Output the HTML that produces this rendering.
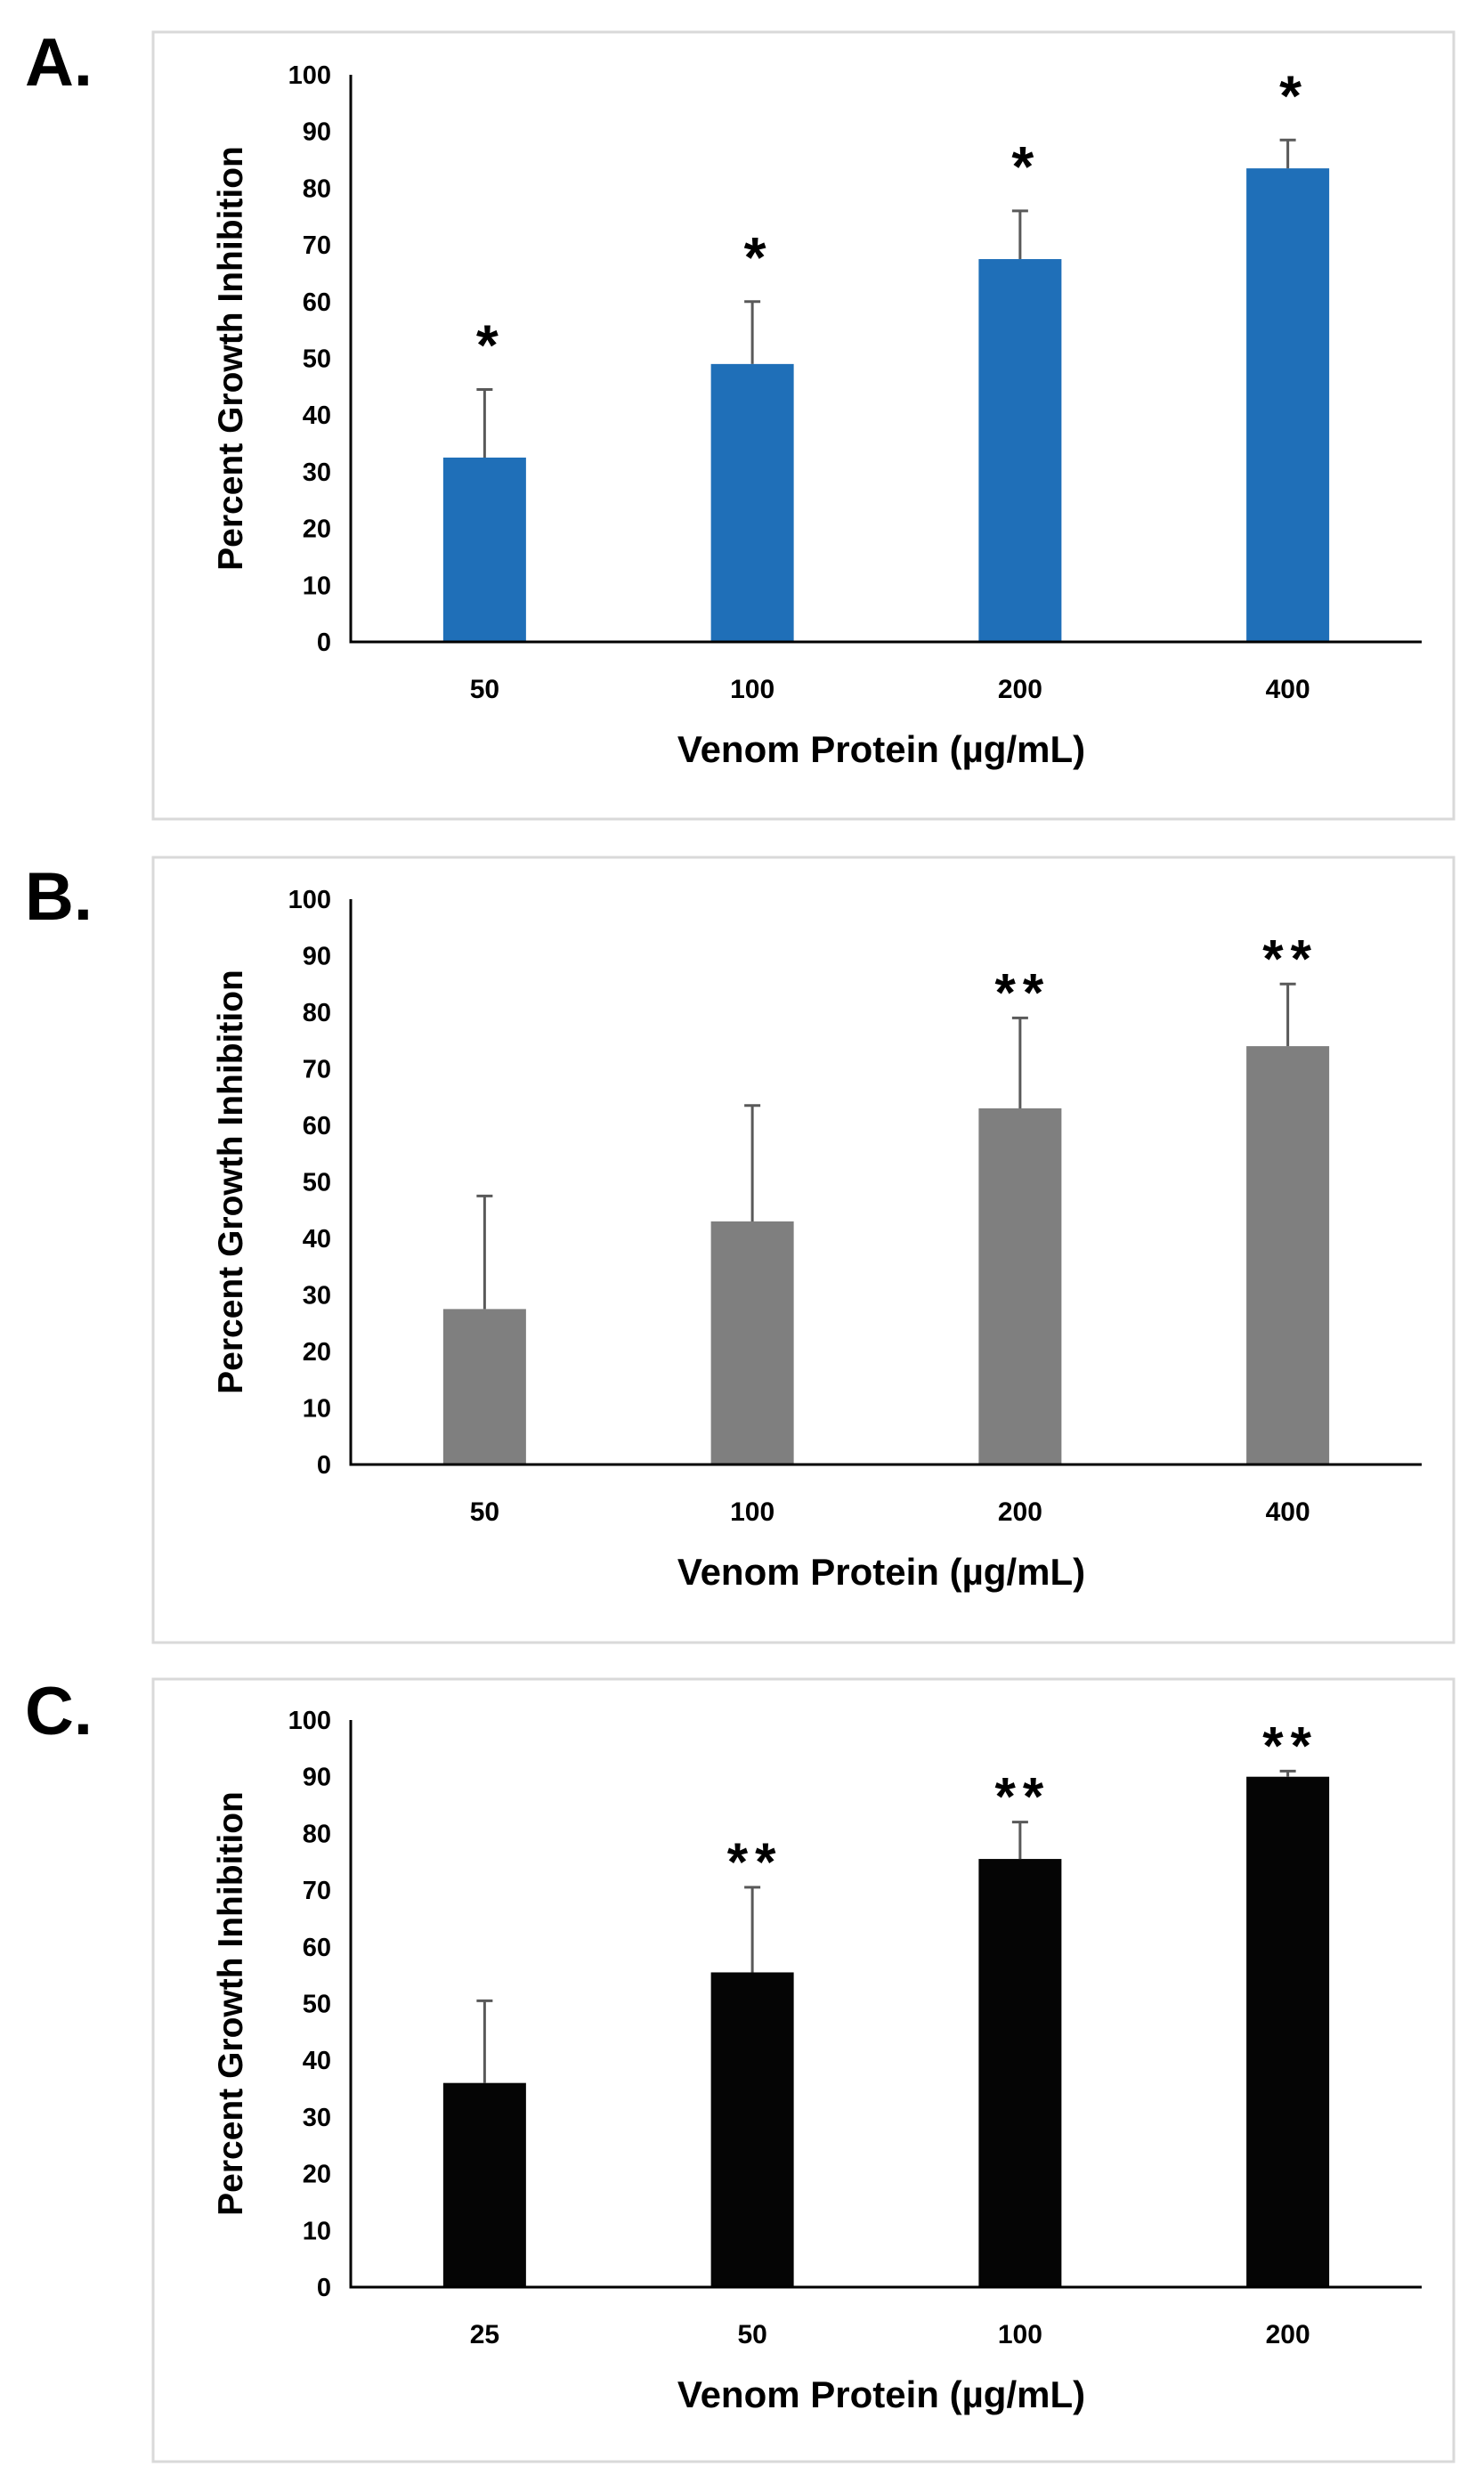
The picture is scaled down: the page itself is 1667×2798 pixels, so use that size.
<!DOCTYPE html>
<html><head><meta charset="utf-8">
<style>
html,body{margin:0;padding:0;background:#fff;}
svg{display:block;}
text{font-family:"Liberation Sans",sans-serif;font-weight:bold;}
</style></head>
<body>
<svg id="fig" width="1667" height="2798" viewBox="0 0 1667 2798" xmlns="http://www.w3.org/2000/svg"></svg>
<script>
const catsA = ["50","100","200","400"];
const valsA = [32.5,49,67.5,83.5];
const errA = [12,11,8.5,5];
const sigA = ["*","*","*","*"];
const catsB = ["50","100","200","400"];
const valsB = [27.5,43,63,74];
const errB = [20,20.5,16,11];
const sigB = ["","","**","**"];
const catsC = ["25","50","100","200"];
const valsC = [36,55.5,75.5,90];
const errC = [14.5,15,6.5,1];
const sigC = ["","**","**","**"];
const yTicks = [0,10,20,30,40,50,60,70,80,90,100];

const NS="http://www.w3.org/2000/svg";
const svg=document.getElementById('fig');
function mk(tag,attrs,parent){const e=document.createElementNS(NS,tag);for(const k in attrs)e.setAttribute(k,attrs[k]);(parent||svg).appendChild(e);return e;}

const panels=[
 {id:'a',letter:'A.',cats:catsA,vals:valsA,err:errA,sig:sigA,color:'#1f6fb8',box:[172,36,1633,920],y0:721,y100:84,lab:774,title:842,ly:71},
 {id:'b',letter:'B.',cats:catsB,vals:valsB,err:errB,sig:sigB,color:'#7f7f7f',box:[172,963,1633,1845],y0:1645,y100:1010,lab:1698,title:1766,ly:1008},
 {id:'c',letter:'C.',cats:catsC,vals:valsC,err:errC,sig:sigC,color:'#050505',box:[172,1886,1633,2765],y0:2569,y100:1932,lab:2622,title:2690,ly:1923}
];
const xAxisL=394,xAxisR=1597,barW=93;
panels.forEach(p=>{
  const g=mk('g',{});
  
  
  const lt=mk('text',{x:28,y:p.ly+25,'font-size':76,fill:'#000'},g);lt.textContent=p.letter;
  
  
  const b=p.box;
  const r=mk('rect',{x:b[0],y:b[1],width:b[2]-b[0],height:b[3]-b[1],fill:'#fff',stroke:'#d9d9d9','stroke-width':3},g);
  
  
  const y=v=>p.y0-(p.y0-p.y100)*v/100;
  const step=(xAxisR-xAxisL)/p.cats.length;
  const x=i=>xAxisL+step*(i+0.5);
  yTicks.forEach(t=>{
    const tt=mk('text',{x:xAxisL-22,y:y(t)+10,'font-size':29,'text-anchor':'end',fill:'#000'},g);tt.textContent=t;
    
    
  });
  p.vals.forEach((v,i)=>{
    const bar=mk('rect',{x:x(i)-barW/2,y:y(v),width:barW,height:p.y0-y(v),fill:p.color},g);
    
    
    const top=y(v+p.err[i]);
    const e=mk('path',{d:`M${x(i)} ${y(v)}V${top}M${x(i)-9} ${top}H${x(i)+9}`,stroke:'#595959','stroke-width':3,fill:'none'},g);
    
    
    if(p.sig[i]){
      const dbl=p.sig[i].length>1;
      const s=mk('text',{x:x(i)+3,y:top-(dbl?8:22)+ (dbl?0:-6),'font-size':dbl?60:64,'text-anchor':'middle',fill:'#000','letter-spacing':dbl?8:0},g);s.textContent=p.sig[i];
      
      
    }
    const xl=mk('text',{x:x(i),y:p.lab+10,'font-size':30,'text-anchor':'middle',fill:'#000'},g);xl.textContent=p.cats[i];
    
    
  });
  const ax=mk('path',{d:`M${xAxisL} ${p.y100}V${p.y0}H${xAxisR}`,stroke:'#000','stroke-width':3,fill:'none'},g);
  
  
  const xt=mk('text',{x:990,y:p.title+14,'font-size':42,'text-anchor':'middle',fill:'#000'},g);xt.textContent='Venom Protein (\u00b5g/mL)';
  
  
  const cy=(p.y0+p.y100)/2;
  const yt=mk('text',{x:0,y:0,'font-size':39,'text-anchor':'middle',fill:'#000',transform:`translate(272 ${cy}) rotate(-90)`},g);yt.textContent='Percent Growth Inhibition';
  
  
});
</script>
</body></html>
